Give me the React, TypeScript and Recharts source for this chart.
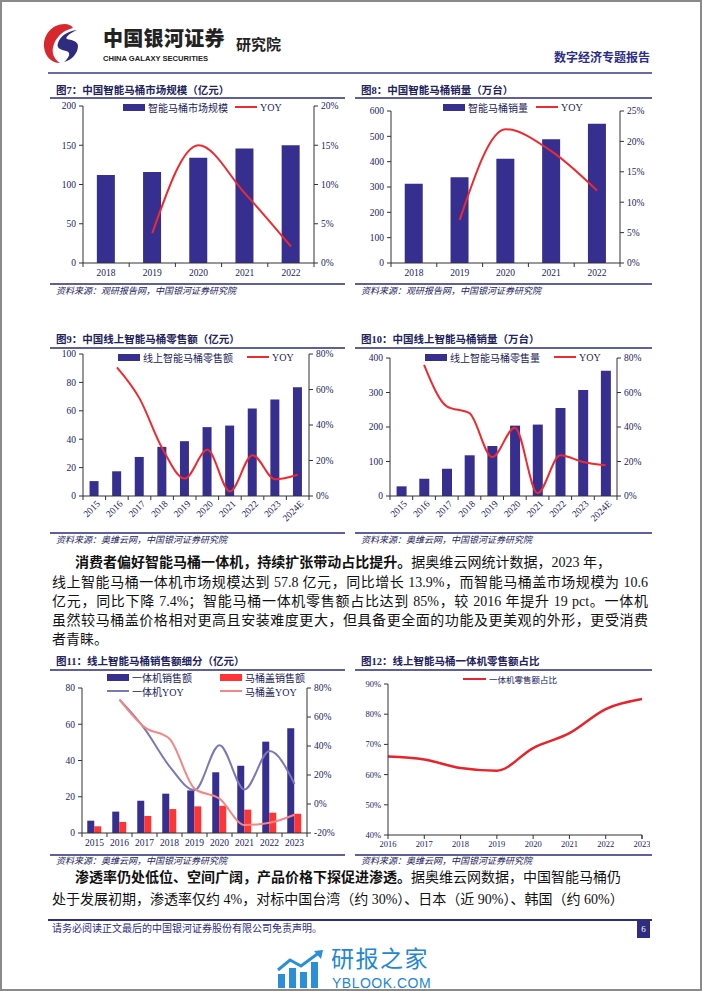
import { ComposedChart, LineChart, Bar, Line, XAxis, YAxis, Legend } from "recharts"

const SERIF = '"Liberation Serif", "Times New Roman", "Noto Sans CJK SC", serif'
const SANS = '"Noto Sans CJK SC", "Noto Sans", sans-serif'
const NAVY = "#372f8f"
const RED = "#ee2a2f"
const INK = "#22225c"
const AXIS = "#333333"
const RULE = "#5f5f9c"

// 图7 / 图8
const years18 = ["2018", "2019", "2020", "2021", "2022"]
const marketSize = [112, 116, 134, 146, 150]
const marketYoy = [null, 3.8, 15.0, 8.9, 2.1]
const salesVolume = [313, 338, 412, 488, 550]
const salesYoy = [null, 7.1, 22.0, 18.4, 11.9]

// 图9 / 图10
const years15 = ["2015", "2016", "2017", "2018", "2019", "2020", "2021", "2022", "2023", "2024E"]
const onlineRetail = [10.5, 17.4, 27.5, 34.6, 38.6, 48.5, 49.6, 61.6, 68, 76.5]
const onlineRetailYoy = [null, 72.5, 55, 27, 9.8, 26, 2.6, 23, 9.4, 12]
const onlineVolume = [28, 50, 79, 118, 145, 204, 207, 255, 307, 363]
const onlineVolumeYoy = [null, 76, 52, 48, 22.6, 39.6, 1.7, 23.6, 19.7, 17.8]

// 图11
const years9 = ["2015", "2016", "2017", "2018", "2019", "2020", "2021", "2022", "2023"]
const integratedSales = [6.8, 11.8, 17.8, 21.7, 23.5, 33.5, 37.1, 50.4, 57.8]
const seatSales = [3.7, 6.1, 9.4, 13.2, 14.7, 15.0, 12.9, 11.2, 10.6]
const integratedYoy = [null, 72, 52, 26, 9.5, 40.5, 10, 36.5, 13.9]
const seatYoy = [null, 72, 53, 45, 10.6, 3.7, -14.5, -13, -7.4]
const splitNames = ["一体机销售额", "马桶盖销售额", "一体机YOY", "马桶盖YOY"]

// 图12
const years16 = ["2016", "2017", "2018", "2019", "2020", "2021", "2022", "2023"]
const integratedShare = [66, 65, 62.2, 61.3, 68.8, 73.7, 81.7, 85]

const zip = (years: string[], value: any[], yoy: any[]) =>
  years.map((year, i) => ({ year, value: value[i], yoy: yoy[i] }))

const pct = (v: number) => `${v}%`

function CategoryTick(props: any) {
  const { x, y, payload, index, count, slant, fs } = props
  const half = payload && payload.offset ? payload.offset : 0
  const axisY = y - 6
  const mark = (tx: number) => (
    <line x1={tx} x2={tx} y1={axisY} y2={axisY + 4} stroke={AXIS} strokeWidth={1} />
  )
  return (
    <g>
      {mark(x - half)}
      {index === count - 1 && mark(x + half)}
      {slant ? (
        <text
          x={x + 4}
          y={y}
          transform={`rotate(-45 ${x + 4} ${y})`}
          textAnchor="end"
          dy="0.35em"
          fontSize={fs}
          fill={INK}
          fontFamily={SERIF}
        >
          {payload.value}
        </text>
      ) : (
        <text x={x} y={y} dy="0.75em" textAnchor="middle" fontSize={fs} fill={INK} fontFamily={SERIF}>
          {payload.value}
        </text>
      )}
    </g>
  )
}

function LegendContent({ payload, order, gap = 8, cols, colWidth, fs = 10, swatch = 22 }: any) {
  const list = [...(payload || [])].sort(
    (a: any, b: any) => order.indexOf(a.value) - order.indexOf(b.value)
  )
  const items = list.map((e: any) => (
    <div
      key={e.value}
      style={{
        display: "flex",
        alignItems: "center",
        height: 14,
        width: cols ? colWidth : undefined,
        marginRight: cols ? 0 : gap,
      }}
    >
      <div
        style={{
          width: swatch,
          height: e.type === "line" ? 2 : 7,
          background: e.color,
          marginRight: 3,
        }}
      />
      <span style={{ fontSize: fs, color: INK, fontFamily: SERIF, whiteSpace: "nowrap" }}>{e.value}</span>
    </div>
  ))
  return (
    <div
      style={{
        display: cols ? "grid" : "flex",
        gridTemplateColumns: cols ? `repeat(${cols}, ${colWidth}px)` : undefined,
      }}
    >
      {items}
    </div>
  )
}

function Caption({ left, width, titleY, ruleY, sourceRuleY, sourceY, title, source }: any) {
  return (
    <>
      <div
        style={{
          position: "absolute",
          left: left + 6,
          top: titleY - 7,
          lineHeight: "14px",
          fontSize: 10.5,
          fontWeight: 700,
          color: INK,
          whiteSpace: "nowrap",
        }}
      >
        {title}
      </div>
      <div style={{ position: "absolute", left, top: ruleY, width, height: 1.5, background: RULE }} />
      <div style={{ position: "absolute", left, top: sourceRuleY, width, height: 1.5, background: RULE }} />
      <div
        style={{
          position: "absolute",
          left: left + 6,
          top: sourceY - 6,
          lineHeight: "12px",
          fontSize: 9,
          fontStyle: "italic",
          color: INK,
          whiteSpace: "nowrap",
        }}
      >
        {source}
      </div>
    </>
  )
}

function Combo(p: any) {
  const tickStyle = { fill: INK, fontSize: 9.5, fontFamily: SERIF }
  return (
    <div style={{ position: "absolute", left: p.left, top: p.top }}>
      <ComposedChart width={p.width} height={p.height} data={p.data} margin={p.margin} barCategoryGap={p.barGap}>
        <XAxis
          dataKey="year"
          stroke={AXIS}
          tickLine={false}
          tickSize={4}
          tickMargin={2}
          height={p.xHeight}
          interval={0}
          tick={<CategoryTick count={p.data.length} slant={p.slant} fs={9.5} />}
        />
        <YAxis
          yAxisId="l"
          domain={p.leftDomain}
          ticks={p.leftTicks}
          width={p.yWidth[0]}
          stroke={AXIS}
          tickSize={4}
          tickMargin={3}
          interval={0}
          tick={tickStyle}
        />
        <YAxis
          yAxisId="r"
          orientation="right"
          domain={p.rightDomain}
          ticks={p.rightTicks}
          width={p.yWidth[1]}
          stroke={AXIS}
          tickSize={4}
          tickMargin={3}
          interval={0}
          tick={tickStyle}
          tickFormatter={pct}
        />
        <Legend
          verticalAlign="middle"
          align="center"
          layout="horizontal"
          wrapperStyle={{ top: 0, left: p.legendLeft, width: "auto" }}
          content={<LegendContent order={[p.barName, "YOY"]} gap={p.legendGap} />}
        />
        <Bar yAxisId="l" dataKey="value" name={p.barName} fill={NAVY} isAnimationActive={false} />
        <Line
          yAxisId="r"
          dataKey="yoy"
          name="YOY"
          type="monotone"
          stroke={RED}
          strokeWidth={2}
          dot={false}
          isAnimationActive={false}
        />
      </ComposedChart>
    </div>
  )
}

function Split() {
  const data = years9.map((year, i) => ({
    year,
    whole: integratedSales[i],
    seat: seatSales[i],
    wholeYoy: integratedYoy[i],
    seatYoy: seatYoy[i],
  }))
  const tickStyle = { fill: INK, fontSize: 9.5, fontFamily: SERIF }
  return (
    <div style={{ position: "absolute", left: 50, top: 672 }}>
      <ComposedChart
        width={295}
        height={180}
        data={data}
        margin={{ top: 16, right: 6, bottom: 2, left: 4 }}
        barCategoryGap="21%"
        barGap={0}
      >
        <XAxis
          dataKey="year"
          stroke={AXIS}
          tickLine={false}
          tickSize={4}
          tickMargin={2}
          height={17}
          interval={0}
          tick={<CategoryTick count={data.length} fs={9.5} />}
        />
        <YAxis yAxisId="l" domain={[0, 80]} ticks={[0, 20, 40, 60, 80]} width={28} stroke={AXIS} tickSize={4} tickMargin={3} tick={tickStyle} interval={0} />
        <YAxis
          yAxisId="r"
          orientation="right"
          domain={[-20, 80]}
          ticks={[-20, 0, 20, 40, 60, 80]}
          width={32}
          stroke={AXIS}
          tickSize={4}
          tickMargin={3}
          tick={tickStyle}
          interval={0}
          tickFormatter={pct}
        />
        <Legend
          verticalAlign="middle"
          align="center"
          layout="horizontal"
          wrapperStyle={{ top: -2, left: 57, width: "auto" }}
          content={<LegendContent order={splitNames} cols={2} colWidth={113} />}
        />
        <Bar yAxisId="l" dataKey="whole" name={splitNames[0]} fill={NAVY} isAnimationActive={false} />
        <Bar yAxisId="l" dataKey="seat" name={splitNames[1]} fill="#ff3535" isAnimationActive={false} />
        <Line yAxisId="r" dataKey="wholeYoy" name={splitNames[2]} type="monotone" stroke="#7b79b3" strokeWidth={2} dot={false} isAnimationActive={false} />
        <Line yAxisId="r" dataKey="seatYoy" name={splitNames[3]} type="monotone" stroke="#f58686" strokeWidth={2} dot={false} isAnimationActive={false} />
      </ComposedChart>
    </div>
  )
}

function Share() {
  const data = years16.map((year, i) => ({ year, share: integratedShare[i] }))
  const tickStyle = { fill: INK, fontSize: 8.5, fontFamily: SERIF }
  return (
    <div style={{ position: "absolute", left: 355, top: 672 }}>
      <LineChart width={295} height={180} data={data} margin={{ top: 12, right: 8, bottom: 2, left: 5 }}>
        <XAxis
          dataKey="year"
          stroke={AXIS}
          tickLine={false}
          tickSize={4}
          tickMargin={2}
          height={15}
          interval={0}
          tick={<CategoryTick count={data.length} fs={8.5} />}
        />
        <YAxis
          domain={[40, 90]}
          ticks={[40, 50, 60, 70, 80, 90]}
          width={28}
          stroke={AXIS}
          tickSize={4}
          tickMargin={3}
          tick={tickStyle}
          interval={0}
          tickFormatter={pct}
        />
        <Legend
          verticalAlign="middle"
          align="center"
          layout="horizontal"
          wrapperStyle={{ top: 0, left: 108, width: "auto" }}
          content={<LegendContent order={["一体机零售额占比"]} fs={8.5} swatch={23} />}
        />
        <Line dataKey="share" name="一体机零售额占比" type="monotone" stroke="#e8232b" strokeWidth={2.5} dot={false} isAnimationActive={false} />
      </LineChart>
    </div>
  )
}

function TextLine({ left, top, width, children, justify }: any) {
  return (
    <div
      style={{
        position: "absolute",
        left,
        top: top - 10,
        width,
        lineHeight: "20px",
        fontSize: 14,
        color: "#111",
        whiteSpace: "nowrap",
        textAlign: justify ? "justify" : "left",
        textAlignLast: justify ? "justify" : "left",
      }}
    >
      {children}
    </div>
  )
}

export default function App() {
  return (
    <div
      style={{
        position: "absolute",
        left: 0,
        top: 0,
        width: 702,
        height: 991,
        boxSizing: "border-box",
        border: "2px solid #8a8a8a",
        background: "#fff",
        overflow: "hidden",
        fontFamily: SERIF,
      }}
    >
      <div style={{ position: "absolute", left: -2, top: -2, width: 702, height: 991 }}>
        {/* header */}
        <svg style={{ position: "absolute", left: 43, top: 22 }} width={36} height={42}>
          <path d="M22 2 C8 2 0 14 1 25 C2 35 9 41 17 41 C10 37 8 29 11 22 C14 14 21 8 30 6 C28 3 25 2 22 2 Z" fill="#d7282f" />
          <path d="M34 8 C25 9 17 14 15 21 C13 26 18 28 23 29 C28 30 27 35 21 40 C29 38 35 31 35 24 C35 19 28 18 24 17 C22 16 25 12 34 8 Z" fill="#2f2c80" />
        </svg>
        <div style={{ position: "absolute", left: 103, top: 27, fontFamily: SANS, fontWeight: 900, fontSize: 20, color: "#222", lineHeight: "22px", whiteSpace: "nowrap", letterSpacing: 0.3 }}>
          中国银河证券
        </div>
        <div style={{ position: "absolute", left: 103, top: 54, fontFamily: '"Liberation Sans", Arial, sans-serif', fontWeight: 700, fontSize: 7.6, color: "#222", lineHeight: "9px", whiteSpace: "nowrap" }}>
          CHINA GALAXY SECURITIES
        </div>
        <div style={{ position: "absolute", left: 236, top: 35, fontFamily: SANS, fontWeight: 700, fontSize: 15, color: "#222", lineHeight: "18px", whiteSpace: "nowrap" }}>
          研究院
        </div>
        <div style={{ position: "absolute", right: 52, top: 50, fontWeight: 700, fontSize: 12, color: "#2e2d8a", lineHeight: "16px", whiteSpace: "nowrap" }}>
          数字经济专题报告
        </div>
        <div style={{ position: "absolute", left: 48, top: 72, width: 604, height: 2, background: "#6a6aa5" }} />

        {/* 图7 / 图8 */}
        <Caption left={50} width={295} titleY={91} ruleY={97} sourceRuleY={283} sourceY={291} title="图7：中国智能马桶市场规模（亿元）" source="资料来源：观研报告网，中国银河证券研究院" />
        <Caption left={355} width={297} titleY={91} ruleY={97} sourceRuleY={283} sourceY={291} title="图8：中国智能马桶销量（万台）" source="资料来源：观研报告网，中国银河证券研究院" />
        <Combo
          data={zip(years18, marketSize, marketYoy)}
          left={50}
          top={100}
          width={295}
          height={185}
          margin={{ top: 6, right: 3, bottom: 2, left: 3 }}
          yWidth={[30, 28]}
          xHeight={20}
          barGap="30%"
          barName="智能马桶市场规模"
          leftDomain={[0, 200]}
          leftTicks={[0, 50, 100, 150, 200]}
          rightDomain={[0, 20]}
          rightTicks={[0, 5, 10, 15, 20]}
          legendLeft={73}
          legendGap={7}
        />
        <Combo
          data={zip(years18, salesVolume, salesYoy)}
          left={355}
          top={100}
          width={295}
          height={185}
          margin={{ top: 11, right: 3, bottom: 2, left: 6 }}
          yWidth={[30, 27]}
          xHeight={20}
          barGap="30%"
          barName="智能马桶销量"
          leftDomain={[0, 600]}
          leftTicks={[0, 100, 200, 300, 400, 500, 600]}
          rightDomain={[0, 25]}
          rightTicks={[0, 5, 10, 15, 20, 25]}
          legendLeft={88}
          legendGap={8}
        />

        {/* 图9 / 图10 */}
        <Caption left={50} width={295} titleY={340} ruleY={347} sourceRuleY={532} sourceY={540} title="图9：中国线上智能马桶零售额（亿元）" source="资料来源：奥维云网，中国银河证券研究院" />
        <Caption left={355} width={297} titleY={340} ruleY={347} sourceRuleY={532} sourceY={540} title="图10：中国线上智能马桶销量（万台）" source="资料来源：奥维云网，中国银河证券研究院" />
        <Combo
          data={zip(years15, onlineRetail, onlineRetailYoy)}
          left={50}
          top={350}
          width={295}
          height={180}
          margin={{ top: 4, right: 6, bottom: 2, left: 5 }}
          yWidth={[28, 30]}
          xHeight={32}
          slant
          barGap="29%"
          barName="线上智能马桶零售额"
          leftDomain={[0, 100]}
          leftTicks={[0, 20, 40, 60, 80, 100]}
          rightDomain={[0, 80]}
          rightTicks={[0, 20, 40, 60, 80]}
          legendLeft={68}
          legendGap={14}
        />
        <Combo
          data={zip(years15, onlineVolume, onlineVolumeYoy)}
          left={355}
          top={350}
          width={295}
          height={180}
          margin={{ top: 8, right: 3, bottom: 2, left: 5 }}
          yWidth={[30, 30]}
          xHeight={32}
          slant
          barGap="29%"
          barName="线上智能马桶零售量"
          leftDomain={[0, 400]}
          leftTicks={[0, 100, 200, 300, 400]}
          rightDomain={[0, 80]}
          rightTicks={[0, 20, 40, 60, 80]}
          legendLeft={70}
          legendGap={14}
        />

        {/* 正文 1 */}
        <TextLine left={75} top={563} width={536} justify>
          <b>消费者偏好智能马桶一体机，持续扩张带动占比提升。</b>据奥维云网统计数据，2023 年，
        </TextLine>
        <TextLine left={52} top={583} width={596} justify>
          线上智能马桶一体机市场规模达到 57.8 亿元，同比增长 13.9%，而智能马桶盖市场规模为 10.6
        </TextLine>
        <TextLine left={52} top={602} width={596} justify>
          亿元，同比下降 7.4%；智能马桶一体机零售额占比达到 85%，较 2016 年提升 19 pct。一体机
        </TextLine>
        <TextLine left={52} top={621} width={596} justify>
          虽然较马桶盖价格相对更高且安装难度更大，但具备更全面的功能及更美观的外形，更受消费
        </TextLine>
        <TextLine left={52} top={640}>
          者青睐。
        </TextLine>

        {/* 图11 / 图12 */}
        <Caption left={50} width={295} titleY={662} ruleY={669} sourceRuleY={854} sourceY={861} title="图11：线上智能马桶销售额细分（亿元）" source="资料来源：奥维云网，中国银河证券研究院" />
        <Caption left={355} width={297} titleY={662} ruleY={669} sourceRuleY={854} sourceY={861} title="图12：线上智能马桶一体机零售额占比" source="资料来源：奥维云网，中国银河证券研究院" />
        <Split />
        <Share />

        {/* 正文 2 */}
        <TextLine left={75} top={878}>
          <b>渗透率仍处低位、空间广阔，产品价格下探促进渗透。</b>据奥维云网数据，中国智能马桶仍
        </TextLine>
        <TextLine left={52} top={900}>
          处于发展初期，渗透率仅约 4%，对标中国台湾（约 30%）、日本（近 90%）、韩国（约 60%）
        </TextLine>

        {/* footer */}
        <div style={{ position: "absolute", left: 48, top: 919, width: 604, height: 2, background: "#2e2d7f" }} />
        <div style={{ position: "absolute", left: 52, top: 922, fontSize: 10, color: "#2e2d7f", lineHeight: "14px", whiteSpace: "nowrap" }}>
          请务必阅读正文最后的中国银河证券股份有限公司免责声明。
        </div>
        <div style={{ position: "absolute", left: 637, top: 921, width: 13, height: 17, background: "#2e2d7f", color: "#fff", fontSize: 9, lineHeight: "17px", textAlign: "center" }}>
          6
        </div>

        {/* watermark */}
        <svg style={{ position: "absolute", left: 276, top: 950 }} width={52} height={38}>
          <rect x={2} y={24} width={7} height={14} fill="#2a8fd8" />
          <rect x={13} y={18} width={7} height={20} fill="#2a8fd8" />
          <rect x={24} y={22} width={7} height={16} fill="#2a8fd8" />
          <rect x={35} y={12} width={7} height={26} fill="#2a8fd8" />
          <polyline points="2,20 14,10 25,16 44,2" fill="none" stroke="#2a8fd8" strokeWidth={3} />
          <polygon points="38,1 47,0 45,9" fill="#2a8fd8" />
        </svg>
        <div style={{ position: "absolute", left: 331, top: 946, fontFamily: SANS, fontSize: 23, color: "#2186d4", lineHeight: "23px", whiteSpace: "nowrap", letterSpacing: 1.5 }}>
          研报之家
        </div>
        <div style={{ position: "absolute", left: 332, top: 976, fontFamily: '"Liberation Sans", Arial, sans-serif', fontSize: 14, color: "#2186d4", lineHeight: "14px", whiteSpace: "nowrap", letterSpacing: 0.5 }}>
          YBLOOK.COM
        </div>
      </div>
    </div>
  )
}
